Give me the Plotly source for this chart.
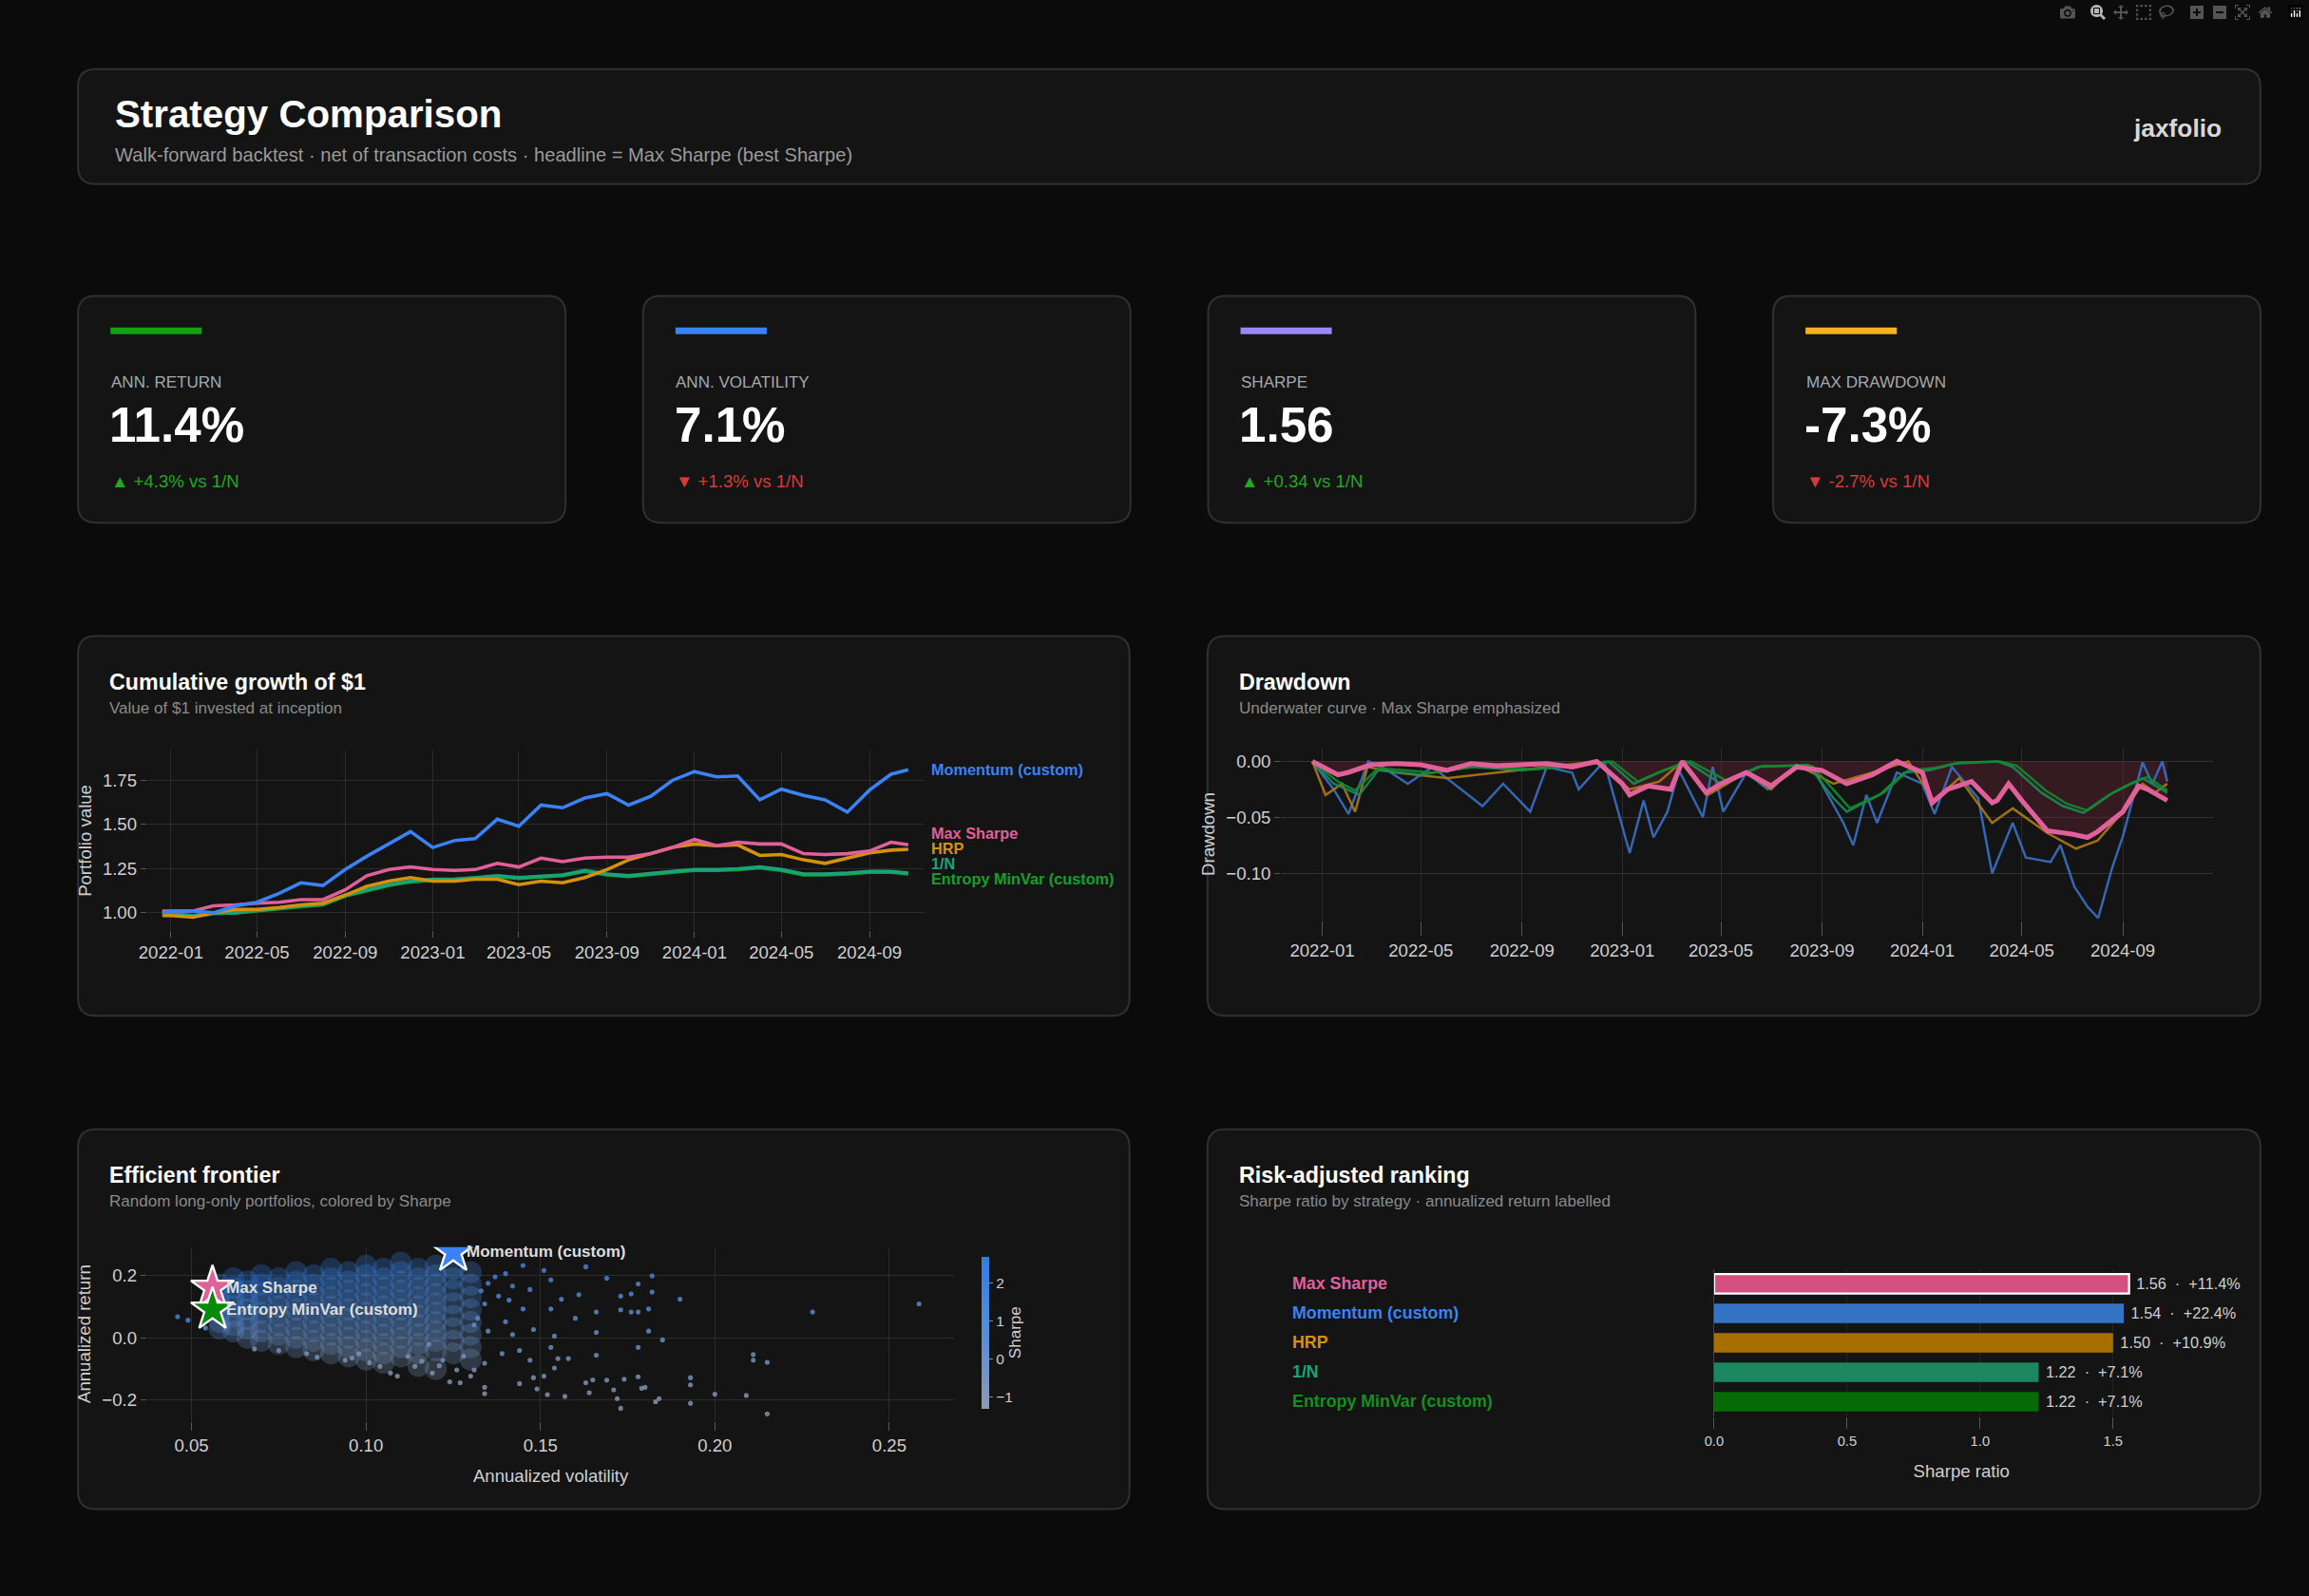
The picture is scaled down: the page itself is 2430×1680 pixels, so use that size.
import plotly.graph_objects as go

# ---------------- data ----------------
cum_dates = ["2021-12-20"] + [f"{y}-{m:02d}-01" for y in (2022, 2023) for m in range(1, 13)] + [f"2024-{m:02d}-01" for m in range(1, 11)] + ["2024-10-25"]
cum_momentum = [1.0, 1.01, 1.01, 1.0, 1.04, 1.06, 1.11, 1.17, 1.155, 1.245, 1.32, 1.39, 1.46,
                1.37, 1.41, 1.42, 1.53, 1.49, 1.61, 1.595, 1.65, 1.675, 1.61, 1.66, 1.75,
                1.80, 1.77, 1.775, 1.64, 1.70, 1.665, 1.64, 1.57, 1.695, 1.785, 1.81]
cum_maxsharpe = [1.01, 1.01, 1.01, 1.04, 1.045, 1.055, 1.06, 1.075, 1.075, 1.13, 1.21, 1.245, 1.26,
                 1.245, 1.24, 1.245, 1.28, 1.26, 1.31, 1.29, 1.31, 1.315, 1.315, 1.335, 1.37,
                 1.415, 1.38, 1.40, 1.39, 1.39, 1.335, 1.33, 1.335, 1.35, 1.40, 1.385]
cum_hrp = [0.985, 0.985, 0.975, 1.0, 1.02, 1.02, 1.03, 1.045, 1.055, 1.10, 1.15, 1.18, 1.20,
           1.18, 1.18, 1.19, 1.19, 1.16, 1.18, 1.17, 1.20, 1.245, 1.30, 1.335, 1.37,
           1.39, 1.38, 1.385, 1.325, 1.33, 1.30, 1.28, 1.31, 1.34, 1.355, 1.36]
cum_1n = [1.0, 0.995, 0.985, 1.0, 1.0, 1.015, 1.03, 1.04, 1.05, 1.10, 1.13, 1.16, 1.18,
          1.19, 1.19, 1.20, 1.21, 1.20, 1.21, 1.215, 1.24, 1.22, 1.21, 1.225, 1.235,
          1.245, 1.245, 1.25, 1.26, 1.245, 1.22, 1.22, 1.225, 1.235, 1.235, 1.225]
cum_entropy = [0.995, 0.99, 0.98, 0.995, 1.0, 1.01, 1.025, 1.035, 1.045, 1.095, 1.125, 1.155, 1.175,
               1.185, 1.19, 1.195, 1.205, 1.195, 1.205, 1.21, 1.235, 1.215, 1.205, 1.22, 1.23,
               1.24, 1.24, 1.245, 1.255, 1.24, 1.215, 1.215, 1.22, 1.23, 1.23, 1.22]

dd_maxsharpe_dates = ["2021-12-20", "2022-01-01", "2022-01-20", "2022-02-01", "2022-03-01", "2022-04-01", "2022-05-01", "2022-06-01", "2022-07-01", "2022-08-01", "2022-09-01", "2022-10-01", "2022-11-01", "2022-12-01", "2023-01-01", "2023-01-10", "2023-02-01", "2023-03-01", "2023-03-15", "2023-04-13", "2023-05-01", "2023-06-01", "2023-07-01", "2023-08-01", "2023-09-01", "2023-10-01", "2023-11-01", "2023-12-01", "2024-01-01", "2024-01-13", "2024-02-01", "2024-03-01", "2024-03-26", "2024-04-01", "2024-04-15", "2024-05-01", "2024-06-01", "2024-07-01", "2024-07-20", "2024-08-01", "2024-09-01", "2024-09-20", "2024-10-01", "2024-10-25"]
dd_maxsharpe = [0, -0.005, -0.012, -0.01, -0.003, -0.002, -0.003, -0.008, -0.002, -0.004, -0.003, -0.002, -0.005, 0, -0.02, -0.03, -0.022, -0.025, 0, -0.028, -0.02, -0.01, -0.022, -0.005, -0.008, -0.02, -0.012, 0, -0.01, -0.037, -0.025, -0.018, -0.037, -0.035, -0.02, -0.035, -0.062, -0.065, -0.068, -0.063, -0.045, -0.022, -0.025, -0.035]
dd_momentum_dates = ["2021-12-20", "2022-01-15", "2022-02-02", "2022-02-26", "2022-03-15", "2022-04-15", "2022-05-15", "2022-07-15", "2022-08-09", "2022-09-11", "2022-10-01", "2022-11-01", "2022-11-09", "2022-12-10", "2023-01-10", "2023-01-27", "2023-02-08", "2023-02-25", "2023-03-11", "2023-04-09", "2023-04-21", "2023-05-04", "2023-06-01", "2023-06-27", "2023-08-01", "2023-08-24", "2023-09-27", "2023-10-09", "2023-10-25", "2023-11-07", "2023-12-01", "2024-01-01", "2024-01-16", "2024-02-06", "2024-03-09", "2024-03-26", "2024-04-20", "2024-05-06", "2024-06-05", "2024-06-17", "2024-07-04", "2024-07-20", "2024-08-02", "2024-08-19", "2024-09-01", "2024-09-13", "2024-09-25", "2024-10-07", "2024-10-19", "2024-10-25"]
dd_momentum = [0, -0.025, -0.047, 0, -0.005, -0.02, -0.005, -0.04, -0.02, -0.045, -0.005, -0.01, -0.025, 0, -0.082, -0.035, -0.068, -0.045, -0.008, -0.05, -0.005, -0.045, -0.01, -0.025, -0.005, -0.01, -0.055, -0.075, -0.03, -0.055, -0.01, -0.02, -0.047, -0.005, -0.033, -0.10, -0.055, -0.086, -0.09, -0.075, -0.112, -0.13, -0.14, -0.095, -0.067, -0.033, -0.001, -0.02, 0, -0.018]
dd_hrp_dates = ["2021-12-20", "2022-01-05", "2022-01-25", "2022-02-10", "2022-02-25", "2022-04-01", "2022-06-01", "2022-08-01", "2022-10-01", "2022-12-01", "2023-01-10", "2023-02-15", "2023-03-15", "2023-04-15", "2023-06-01", "2023-07-01", "2023-08-01", "2023-09-15", "2023-11-01", "2023-12-15", "2024-01-15", "2024-02-15", "2024-03-26", "2024-04-20", "2024-06-01", "2024-07-06", "2024-08-01", "2024-09-01", "2024-09-25", "2024-10-10", "2024-10-25"]
dd_hrp = [0, -0.03, -0.02, -0.045, -0.005, -0.01, -0.015, -0.01, -0.005, 0, -0.025, -0.018, 0, -0.03, -0.01, -0.025, -0.003, -0.02, -0.01, 0, -0.035, -0.015, -0.055, -0.042, -0.064, -0.078, -0.071, -0.045, -0.02, -0.028, -0.02]
dd_1n_dates = ["2021-12-20", "2022-01-15", "2022-02-15", "2022-03-10", "2022-05-01", "2022-07-01", "2022-09-01", "2022-11-01", "2022-12-15", "2023-01-15", "2023-02-15", "2023-03-20", "2023-05-01", "2023-06-15", "2023-08-15", "2023-09-15", "2023-10-01", "2023-11-10", "2023-12-10", "2024-01-10", "2024-02-10", "2024-04-01", "2024-04-20", "2024-05-25", "2024-06-20", "2024-07-15", "2024-08-15", "2024-09-05", "2024-09-25", "2024-10-25"]
dd_1n = [0, -0.02, -0.03, -0.008, -0.012, -0.005, -0.008, -0.004, 0, -0.02, -0.01, 0, -0.02, -0.005, -0.003, -0.033, -0.045, -0.03, -0.01, -0.008, -0.002, 0, -0.005, -0.028, -0.04, -0.046, -0.03, -0.022, -0.015, -0.028]
dd_entropy_dates = ["2021-12-20", "2022-01-20", "2022-02-10", "2022-03-10", "2022-05-15", "2022-07-15", "2022-09-15", "2022-11-15", "2022-12-20", "2023-01-20", "2023-02-20", "2023-03-25", "2023-05-10", "2023-06-20", "2023-08-20", "2023-09-20", "2023-10-05", "2023-11-15", "2023-12-15", "2024-01-15", "2024-02-15", "2024-04-05", "2024-04-25", "2024-05-30", "2024-06-25", "2024-07-20", "2024-08-20", "2024-09-10", "2024-10-01", "2024-10-25"]
dd_entropy = [0, -0.018, -0.026, -0.006, -0.01, -0.004, -0.007, -0.003, 0, -0.018, -0.008, 0, -0.018, -0.004, -0.004, -0.03, -0.042, -0.028, -0.008, -0.006, -0.001, 0, -0.004, -0.026, -0.038, -0.044, -0.028, -0.02, -0.014, -0.026]

frontier_points = [
    (.2585, .108), (.228, .082), (.190, .123), (.182, .198), (.178, .172), (.182, .146), (.173, .133), (.176, .140),
    (.173, .089), (.176, .082), (.178, .082), (.181, .092), (.181, .021), (.185, -.007), (.178, -.031), (.166, .017),
    (.166, -.056), (.169, .190), (.163, .227), (.161, .138), (.160, .062), (.166, .082), (.211, -.054), (.211, -.072),
    (.215, -.079), (.193, -.128), (.193, -.151), (.178, -.125), (.174, -.133), (.169, -.136), (.171, -.167), (.172, -.195),
    (.173, -.226), (.180, -.159), (.179, -.162), (.184, -.195), (.183, -.205), (.193, -.210), (.200, -.181), (.209, -.185),
    (.215, -.244), (.164, -.176), (.165, -.135), (.163, -.144), (.157, -.188), (.152, -.182), (.149, -.164), (.144, -.147),
    (.134, -.179), (.134, -.159), (.127, -.144), (.124, -.141), (.154, -.097), (.151, -.123), (.148, -.128), (.158, -.067),
    (.155, -.067), (.147, -.072), (.144, -.041), (.139, -.051), (.153, -.031), (.154, .005), (.148, .026), (.142, .010),
    (.135, .021), (.131, .041), (.140, .051), (.153, .092), (.156, .123), (.153, .185), (.151, .215), (.145, .231),
    (.140, .205), (.135, .174), (.138, .133), (.145, .092), (.147, .154), (.134, .108), (.132, .062), (.118, -.021),
    (.114, -.092), (.109, -.123), (.107, -.113), (.104, -.092), (.094, -.072), (.086, -.062), (.075, -.041), (.068, -.036),
    (.083, -.051), (.098, -.051), (.122, -.072), (.126, -.103), (.130, -.123), (.119, -.113), (.131, -.103), (.134, -.082),
    (.046, .067), (.049, .056), (.054, .031), (.137, .195), (.142, .165), (.128, .225), (.133, .150), (.141, .120),
    (.128, -.060), (.121, -.090), (.116, -.075), (.112, -.060), (.101, -.080), (.096, -.065),
]
frontier_core = {
    .058: [.17, .14, .11, .08, .05, .03], .062: [.19, .16, .13, .10, .07, .04, .02],
    .066: [.18, .15, .12, .09, .06, .03, .0], .070: [.20, .17, .14, .11, .08, .05, .02, -.01],
    .075: [.19, .16, .13, .10, .07, .04, .01, -.02], .080: [.21, .18, .15, .12, .09, .06, .03, .0, -.03],
    .085: [.20, .17, .14, .11, .08, .05, .02, -.01, -.04], .090: [.22, .19, .16, .13, .10, .07, .04, .01, -.02, -.05],
    .095: [.21, .18, .15, .12, .09, .06, .03, .0, -.03, -.06], .100: [.23, .20, .17, .14, .11, .08, .05, .02, -.01, -.04, -.07],
    .105: [.22, .19, .16, .13, .10, .07, .04, .01, -.02, -.05, -.08], .110: [.24, .21, .18, .15, .12, .09, .06, .03, .0, -.03, -.06],
    .115: [.22, .19, .16, .13, .10, .07, .04, .01, -.02, -.05, -.09], .120: [.23, .20, .17, .14, .11, .08, .05, .02, -.01, -.04, -.10],
    .125: [.22, .19, .15, .11, .07, .03, -.01, -.05], .130: [.21, .17, .13, .09, .05, .01, -.03, -.07],
}
star_names = ["Max Sharpe", "Entropy MinVar (custom)", "Momentum (custom)"]
star_vol = [0.056, 0.056, 0.125]
star_ret = [0.16, 0.09, 0.275]

rank_names = ["Max Sharpe", "Momentum (custom)", "HRP", "1/N", "Entropy MinVar (custom)"]
rank_sharpe = [1.56, 1.54, 1.50, 1.22, 1.22]
rank_return = ["+11.4%", "+22.4%", "+10.9%", "+7.1%", "+7.1%"]

kpi_labels = ["ANN. RETURN", "ANN. VOLATILITY", "SHARPE", "MAX DRAWDOWN"]
kpi_values = ["11.4%", "7.1%", "1.56", "-7.3%"]
kpi_deltas = ["▲ +4.3% vs 1/N", "▼ +1.3% vs 1/N", "▲ +0.34 vs 1/N", "▼ -2.7% vs 1/N"]
kpi_good = [True, False, True, False]

# ---------------- style ----------------
W, H = 1568, 1084  # design units (reference display), scaled to 2430x1680
S = 2430 / W
FONT = "Liberation Sans"
C_MOM, C_MS, C_HRP, C_1N, C_ENT = "#3b82f6", "#e0609a", "#d4900e", "#1aa37a", "#12a02a"
PANEL_BG, PANEL_LINE, PAGE_BG = "#141414", "#303030", "#0b0b0b"
GRID = "#2c2c2c"
TICK = "#cfcfcf"

def fx(x): return x / W
def fy(y): return 1 - y / H
def fs(s): return s * S

def rrect(x0, y0, x1, y1, r=12, fill=PANEL_BG, line=PANEL_LINE):
    X0, X1, Yt, Yb = fx(x0), fx(x1), fy(y0), fy(y1)
    rx, ry = r / W, r / H
    p = (f"M {X0+rx},{Yt} L {X1-rx},{Yt} Q {X1},{Yt} {X1},{Yt-ry} L {X1},{Yb+ry} Q {X1},{Yb} {X1-rx},{Yb} "
         f"L {X0+rx},{Yb} Q {X0},{Yb} {X0},{Yb+ry} L {X0},{Yt-ry} Q {X0},{Yt} {X0+rx},{Yt} Z")
    return dict(type="path", path=p, xref="paper", yref="paper", fillcolor=fill,
                line=dict(color=line, width=2), layer="below")

shapes, ann = [], []
def text(x, y, t, size, color, bold=False, xanchor="left", yanchor="middle", **kw):
    ann.append(dict(x=fx(x), y=fy(y), xref="paper", yref="paper", text=f"<b>{t}</b>" if bold else t,
                    showarrow=False, xanchor=xanchor, yanchor=yanchor,
                    font=dict(family=FONT, size=fs(size), color=color), **kw))

# header
shapes.append(rrect(53, 47, 1535, 125))
text(77, 78, "Strategy Comparison", 26, "#ffffff", bold=True)
text(77, 105, "Walk-forward backtest · net of transaction costs · headline = Max Sharpe (best Sharpe)", 13, "#9a9a9a")
text(1510, 87, "jaxfolio", 17, "#d8d8d8", bold=True, xanchor="right")

# KPI cards
accent = ["#14a014", "#3b82f6", "#9b87f5", "#f5b21b"]
for i in range(4):
    x0 = 53 + i * 383.7
    shapes.append(rrect(x0, 201, x0 + 331, 355))
    shapes.append(dict(type="rect", xref="paper", yref="paper", x0=fx(x0 + 22), x1=fx(x0 + 84),
                       y0=fy(227), y1=fy(222.5), fillcolor=accent[i], line=dict(width=0)))
    text(x0 + 21, 260, kpi_labels[i], 11, "#a8a8a8")
    text(x0 + 20, 289, kpi_values[i], 33, "#ffffff", bold=True)
    text(x0 + 21, 327, kpi_deltas[i], 12, "#22a822" if kpi_good[i] else "#d93a3a")

# panels
panels = [(53, 432, 767, 690, "Cumulative growth of $1", "Value of $1 invested at inception"),
          (820, 432, 1535, 690, "Drawdown", "Underwater curve · Max Sharpe emphasized"),
          (53, 767, 767, 1025, "Efficient frontier", "Random long-only portfolios, colored by Sharpe"),
          (820, 767, 1535, 1025, "Risk-adjusted ranking", "Sharpe ratio by strategy · annualized return labelled")]
for x0, y0, x1, y1, t, st in panels:
    shapes.append(rrect(x0, y0, x1, y1))
    text(x0 + 20, y0 + 31, t, 15, "#ffffff", bold=True)
    text(x0 + 20, y0 + 49, st, 11, "#8a8a8a")

fig = go.Figure()

# cumulative
cum_series = [("Momentum (custom)", cum_momentum, C_MOM), ("Max Sharpe", cum_maxsharpe, C_MS),
              ("HRP", cum_hrp, C_HRP), ("1/N", cum_1n, C_1N), ("Entropy MinVar (custom)", cum_entropy, C_ENT)]
for name, vals, col in reversed(cum_series):
    fig.add_trace(go.Scatter(x=cum_dates, y=vals, mode="lines", name=name, line=dict(color=col, width=fs(2.3)),
                             xaxis="x", yaxis="y", showlegend=False))
label_y = [1.81, 1.45, 1.365, 1.28, 1.195]
for (name, vals, col), ly in zip(cum_series, label_y):
    ann.append(dict(x=fx(631), y=ly, xref="paper", yref="y", text=f"<b>{name}</b>", showarrow=False,
                    xanchor="left", yanchor="middle", font=dict(family=FONT, size=fs(10.5), color=col)))

# drawdown
dd_series = [(dd_momentum_dates, dd_momentum, "#3a70c4", 1.6), (dd_hrp_dates, dd_hrp, "#b07a10", 1.6),
             (dd_1n_dates, dd_1n, "#1a8a5a", 1.6), (dd_entropy_dates, dd_entropy, "#148a2c", 1.6)]
fig.add_trace(go.Scatter(x=dd_maxsharpe_dates, y=dd_maxsharpe, mode="lines", fill="tozeroy",
                         fillcolor="rgba(120,40,60,0.35)", line=dict(width=0), xaxis="x2", yaxis="y2", showlegend=False))
for d, v, col, w in dd_series:
    fig.add_trace(go.Scatter(x=d, y=v, mode="lines", line=dict(color=col, width=fs(w)), opacity=0.9,
                             xaxis="x2", yaxis="y2", showlegend=False))
fig.add_trace(go.Scatter(x=dd_maxsharpe_dates, y=dd_maxsharpe, mode="lines", line=dict(color=C_MS, width=fs(3.3)),
                         xaxis="x2", yaxis="y2", showlegend=False))

# frontier
core_v = [v for v, rs in frontier_core.items() for _ in rs]
core_r = [r for v, rs in frontier_core.items() for r in rs]
cmap = [[0, "#8e9bb0"], [0.45, "#5a8fd6"], [1, "#2f7de8"]]
cbar = dict(x=fx(660), xanchor="left", y=fy(847), yanchor="top",
            len=(963 - 847) / H, lenmode="fraction", thickness=fs(5),
            outlinewidth=0, tickvals=[-1, 0, 1, 2], ticks="outside",
            ticklen=fs(3), tickcolor="#888",
            tickfont=dict(family=FONT, size=fs(10), color=TICK),
            title=dict(text="Sharpe", side="right", font=dict(family=FONT, size=fs(11), color=TICK)))
fig.add_trace(go.Scatter(x=core_v, y=core_r, mode="markers", xaxis="x3", yaxis="y3", showlegend=False,
                         marker=dict(size=fs(15), color=[r / v for v, r in zip(core_v, core_r)], cmin=-1.3, cmax=2.7,
                                     opacity=0.28, colorscale=cmap, line=dict(width=0))))
pv = [p[0] for p in frontier_points]
pr = [p[1] for p in frontier_points]
fig.add_trace(go.Scatter(x=pv, y=pr, mode="markers", xaxis="x3", yaxis="y3", showlegend=False,
                         marker=dict(size=fs(3.3), color=[r / v for v, r in zip(pv, pr)], cmin=-1.3, cmax=2.7,
                                     opacity=0.8, colorscale=cmap, line=dict(width=0), colorbar=cbar)))
star_cols = [C_MS, "#0a8a0a", C_MOM]
fig.add_trace(go.Scatter(x=star_vol, y=star_ret, mode="markers", xaxis="x3", yaxis="y3", showlegend=False,
                         marker=dict(symbol="star", size=fs(22), color=star_cols, line=dict(color="white", width=fs(1.5)))))
for n, v, r in zip(star_names, star_vol, star_ret):
    ann.append(dict(x=v, y=r, xref="x3", yref="y3", text=f"<b>{n}</b>", showarrow=False, xanchor="left",
                    xshift=fs(8), font=dict(family=FONT, size=fs(11), color="#dcdcdc")))

# ranking
rank_cols = ["#d6507f", "#3574c4", "#a66f00", "#1b8660", "#066b06"]
fig.add_trace(go.Bar(x=rank_sharpe, y=rank_names, orientation="h", xaxis="x4", yaxis="y4", showlegend=False,
                     marker=dict(color=rank_cols, line=dict(color=["white"] + ["rgba(0,0,0,0)"] * 4, width=fs(1.5))),
                     width=0.66, text=[f" {s:.2f}  ·  {r}" for s, r in zip(rank_sharpe, rank_return)],
                     textposition="outside", cliponaxis=False,
                     outsidetextfont=dict(family=FONT, size=fs(10.5), color="#cfcfcf")))
label_cols = [C_MS, C_MOM, C_HRP, C_1N, "#12901e"]
for n, c in zip(rank_names, label_cols):
    ann.append(dict(x=fx(876), y=n, xref="paper", yref="y4", text=f"<b>{n}</b>", showarrow=False, xanchor="left",
                    font=dict(family=FONT, size=fs(11.5), color=c)))

tickfont = dict(family=FONT, size=fs(12), color=TICK)
def ax(**kw):
    d = dict(gridcolor=GRID, gridwidth=fs(0.8), zeroline=False, showline=False, ticks="outside", ticklen=fs(4),
             tickcolor="#555", tickfont=tickfont, title_font=dict(family=FONT, size=fs(12), color=TICK),
             automargin=False)
    d.update(kw)
    return d

fig.update_layout(
    width=2430, height=1680, margin=dict(l=0, r=0, t=0, b=0, autoexpand=False),
    paper_bgcolor=PAGE_BG, plot_bgcolor="rgba(0,0,0,0)", shapes=shapes, annotations=ann,
    xaxis=ax(domain=[fx(100), fx(628)], anchor="y", range=["2021-11-29", "2024-11-17"], tickformat="%Y-%m",
             dtick="M4", tick0="2022-01-01"),
    yaxis=ax(domain=[fy(632), fy(510)], anchor="x", range=[0.9, 1.917], tickvals=[1.0, 1.25, 1.5, 1.75],
             tickformat=".2f", title=dict(text="Portfolio value", standoff=fs(4))),
    xaxis2=ax(domain=[fx(870), fx(1503)], anchor="y2", range=["2021-11-12", "2024-12-20"], tickformat="%Y-%m",
              dtick="M4", tick0="2022-01-01", ticklen=fs(10)),
    yaxis2=ax(domain=[fy(625), fy(508)], anchor="x2", range=[-0.142, 0.012], tickvals=[0, -0.05, -0.1],
              tickformat=".2f", title=dict(text="Drawdown", standoff=fs(4)), gridcolor="#333"),
    xaxis3=ax(domain=[fx(100), fx(648)], anchor="y3", range=[0.0373, 0.2686], tickvals=[.05, .1, .15, .2, .25],
              tickformat=".2f", ticklen=fs(6), title=dict(text="Annualized volatility", standoff=fs(10))),
    yaxis3=ax(domain=[fy(965), fy(847)], anchor="x3", range=[-0.266, 0.29], tickvals=[-0.2, 0, 0.2],
              tickformat=".1f", title=dict(text="Annualized return", standoff=fs(4))),
    xaxis4=ax(domain=[fx(1164), fx(1500)], anchor="y4", range=[0, 1.86], tickvals=[0, 0.5, 1, 1.5],
              tickformat=".1f", tickfont=dict(family=FONT, size=fs(9.5), color=TICK), gridcolor="#222",
              ticklen=fs(8), title=dict(text="Sharpe ratio", standoff=fs(11))),
    yaxis4=ax(domain=[fy(962), fy(862)], anchor="x4", autorange="reversed", showticklabels=False, ticks="",
              showgrid=False, showline=True, linecolor="#444"),
)

fig.write_html("out.html")
with open("out.html") as f:
    h = f.read()
h = h.replace("<body>", '<body style="margin:0;background:#0b0b0b">', 1)
with open("out.html", "w") as f:
    f.write(h)
